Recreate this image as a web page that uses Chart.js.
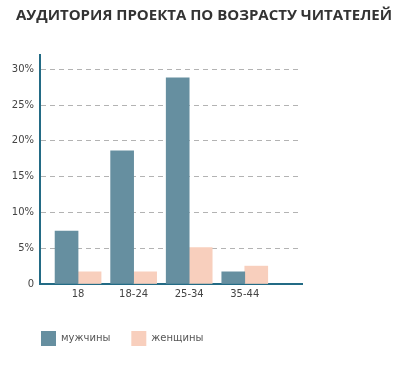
<!DOCTYPE html>
<html>
<head>
<meta charset="utf-8">
<script src="https://cdn.jsdelivr.net/npm/chart.js@4.4.0/dist/chart.umd.min.js"></script>
<style>
  html, body { margin: 0; padding: 0; background: #fff; }
  #wrap { width: 403px; height: 365px; }
</style>
</head>
<body>
<div id="wrap"><canvas id="ageChart" width="403" height="365"></canvas></div>
<script>
const categories = ["18", "18-24", "25-34", "35-44"];
const men = [7.4, 18.6, 28.8, 1.7];
const women = [1.7, 1.7, 5.1, 2.5];
const yTicks = [0, 5, 10, 15, 20, 25, 30];

const axisColor = "#236b85";
const tickFont = { family: "DejaVu Sans", size: 10 };

// bars sit on a linear x scale, one slot per category index
const toPoints = (arr) => arr.map((v, i) => ({ x: i, y: v }));

// title spans the whole canvas, legend lines up with the y axis
const boxTweaks = {
  id: "boxTweaks",
  afterLayout(chart) {
    chart.titleBlock.left = 5;
    chart.titleBlock.right = chart.width;
    chart.legend.left += 20;
  },
};

const ctx = document.getElementById("ageChart");
new Chart(ctx, {
  type: "bar",
  data: {
    datasets: [
      {
        label: "мужчины",
        data: toPoints(men),
        backgroundColor: "#668fa0",
        barThickness: 23,
      },
      {
        label: "женщины",
        data: toPoints(women),
        backgroundColor: "#f8cfbd",
        barThickness: 23,
      },
    ],
  },
  plugins: [boxTweaks],
  options: {
    responsive: false,
    animation: false,
    layout: { padding: { left: 0, right: 101, top: 0, bottom: 9 } },
    plugins: {
      title: {
        display: true,
        text: "АУДИТОРИЯ ПРОЕКТА ПО ВОЗРАСТУ ЧИТАТЕЛЕЙ",
        color: "#333",
        font: { family: "Open Sans", size: 15, weight: "bold" },
        padding: { top: 7, bottom: 30 },
      },
      legend: {
        position: "bottom",
        align: "start",
        labels: {
          boxWidth: 15,
          boxHeight: 15,
          padding: 21,
          color: "#555",
          font: tickFont,
        },
      },
      tooltip: { enabled: false },
    },
    scales: {
      x: {
        type: "linear",
        offset: false,
        min: -0.685,
        max: 4.03,
        grid: { display: false, drawTicks: false },
        border: { display: true, color: axisColor, width: 2 },
        afterBuildTicks: (axis) => {
          axis.ticks = categories.map((c, i) => ({ value: i }));
        },
        afterFit: (axis) => {
          axis.height = 26;
        },
        ticks: {
          padding: 4,
          color: "#444",
          font: tickFont,
          callback: (v) => categories[v],
        },
      },
      y: {
        min: 0,
        max: 32,
        afterBuildTicks: (axis) => {
          axis.ticks = yTicks.map((v) => ({ value: v }));
        },
        afterFit: (axis) => {
          axis.width = 40;
        },
        grid: {
          drawTicks: false,
          color: (c) => (c.tick && c.tick.value === 0 ? "rgba(0,0,0,0)" : "#b3b3b3"),
        },
        border: { display: true, color: axisColor, width: 2, dash: [5, 4] },
        ticks: {
          padding: 6,
          color: "#444",
          font: tickFont,
          callback: (v) => (v === 0 ? "0" : v + "%"),
        },
      },
    },
  },
});
</script>
</body>
</html>
